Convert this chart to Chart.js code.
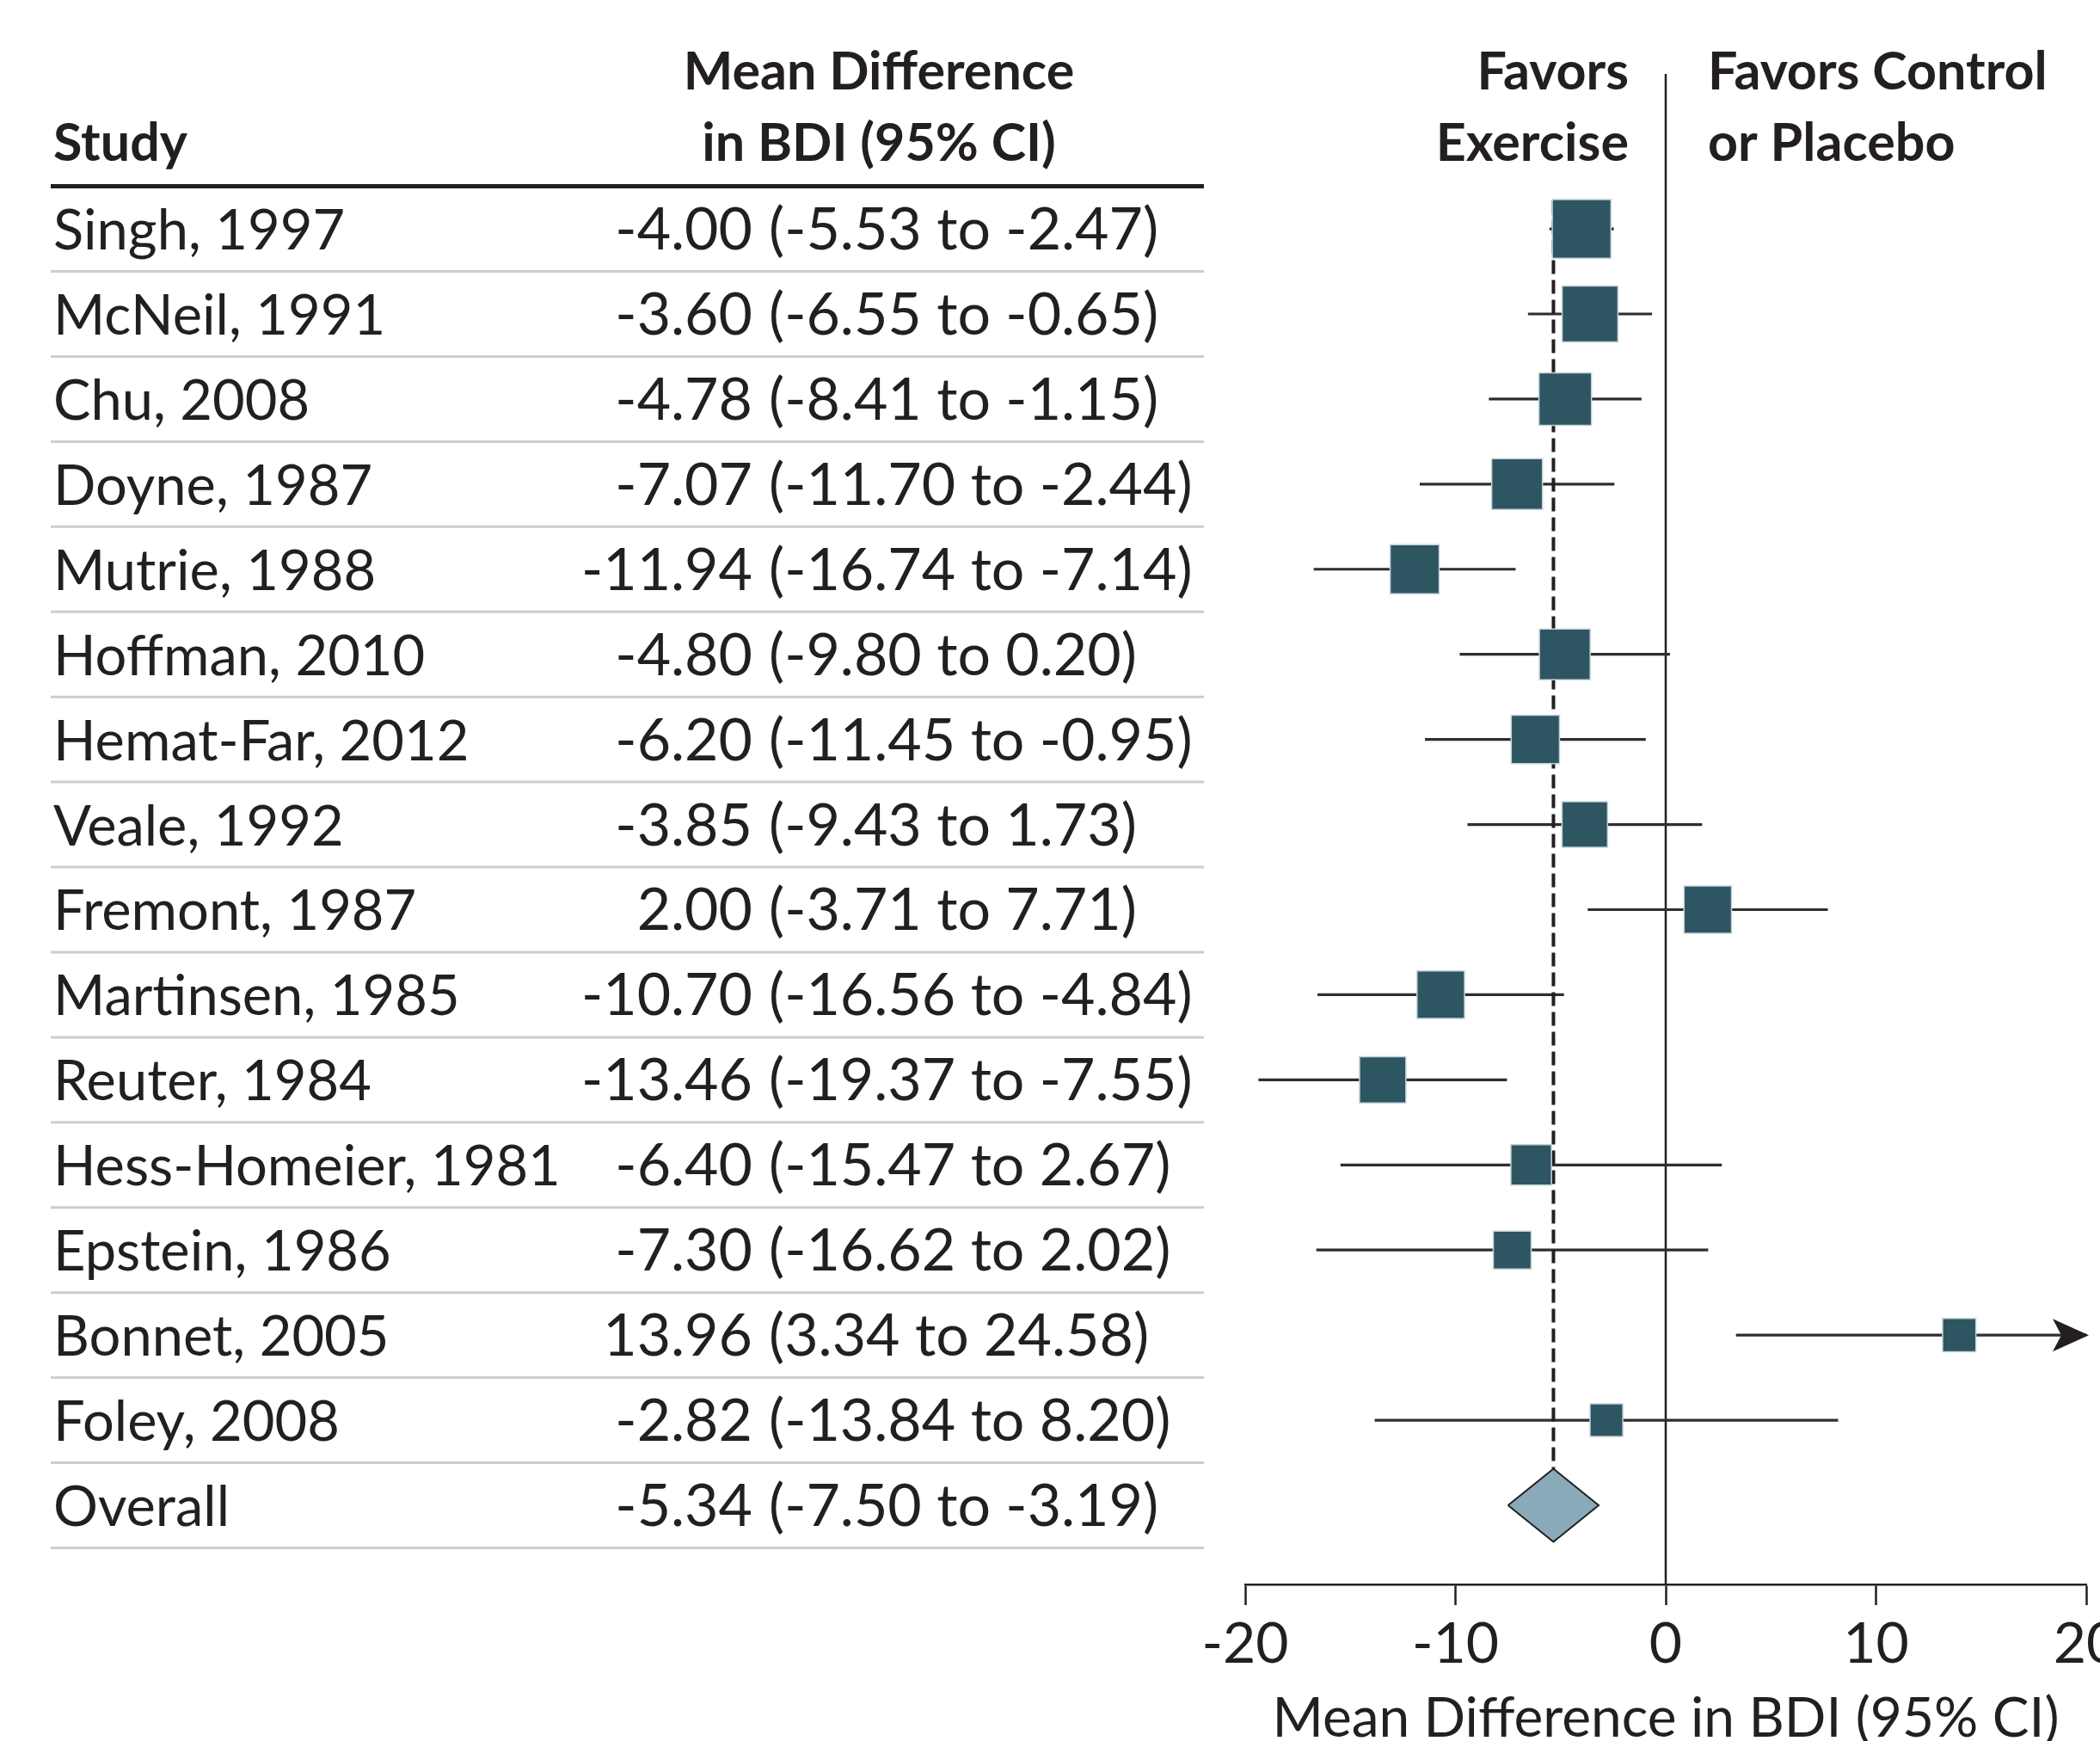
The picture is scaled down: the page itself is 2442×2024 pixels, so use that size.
<!DOCTYPE html>
<html lang="en">
<head>
    <meta charset="UTF-8">
    <title>Exercise and Depression: Mean Difference in BDI</title>
    <script src="https://cdn.jsdelivr.net/npm/chart.js@4.4.1/dist/chart.umd.min.js"></script>
    <style>
        html, body { margin: 0; padding: 0; background: #fff; overflow: hidden; }
        .wrap { width: 2442px; height: 2024px; overflow: hidden; }
        canvas { display: block; }
    </style>
</head>
<body>

    <div class="wrap">
        <canvas id="forest" width="2500" height="2024"></canvas>
    </div>

    <script>
        var studies = [
            'Singh, 1997', 'McNeil, 1991', 'Chu, 2008', 'Doyne, 1987', 'Mutrie, 1988',
            'Hoffman, 2010', 'Hemat-Far, 2012', 'Veale, 1992', 'Fremont, 1987', 'Martinsen, 1985',
            'Reuter, 1984', 'Hess-Homeier, 1981', 'Epstein, 1986', 'Bonnet, 2005', 'Foley, 2008'
        ];
        var meanDiff = [-4.00, -3.60, -4.78, -7.07, -11.94, -4.80, -6.20, -3.85, 2.00, -10.70, -13.46, -6.40, -7.30, 13.96, -2.82];
        var ciLower  = [-5.53, -6.55, -8.41, -11.70, -16.74, -9.80, -11.45, -9.43, -3.71, -16.56, -19.37, -15.47, -16.62, 3.34, -13.84];
        var ciUpper  = [-2.47, -0.65, -1.15, -2.44, -7.14, 0.20, -0.95, 1.73, 7.71, -4.84, -7.55, 2.67, 2.02, 24.58, 8.20];
        // relative study weights
        var weights  = [9.6, 8.7, 7.7, 7.2, 6.7, 7.2, 6.5, 5.8, 6.3, 6.3, 6.0, 4.6, 4.0, 3.1, 3.0];

        var overallLabel = 'Overall';
        var overallMean = -5.34;
        var overallLower = -7.50;
        var overallUpper = -3.19;

        var xTicks = [-20, -10, 0, 10, 20];
        var xTitle = 'Mean Difference in BDI (95% CI)';

        // ---- look ----
        var FONT = 'Lato';
        var INK = '#231f20';
        var BOX = '#2d5562';
        var DIAMOND = '#89aab8';
        var RULE = '#cdcec6';
        var nRows = studies.length + 1;
        var overallRow = studies.length;
        var diamondHalf = 0.43;

        var ciData = [];
        var boxData = [];
        var boxRadius = [];
        for (var i = 0; i < studies.length; i++) {
            ciData.push({x: ciLower[i], y: i}, {x: ciUpper[i], y: i}, {x: ciUpper[i], y: null});
            boxData.push({x: meanDiff[i], y: i});
            boxRadius.push(22 * Math.sqrt(weights[i]) / Math.SQRT2);
        }

        function fmt(v) { return v.toFixed(2); }

        var tablePlugin = {
            id: 'forestTable',
            afterDraw: function (chart) {
                var ctx = chart.ctx;
                var ys = chart.scales.y;
                ctx.save();
                ctx.fillStyle = INK;
                ctx.textBaseline = 'alphabetic';

                // column headers
                ctx.font = 'bold 61px ' + FONT;
                ctx.textAlign = 'left';
                ctx.fillText('Study', 62, 187);
                ctx.textAlign = 'center';
                ctx.fillText('Mean Difference', 1022, 104);
                ctx.fillText('in BDI (95% CI)', 1022, 187);
                ctx.textAlign = 'right';
                ctx.fillText('Favors', 1894, 104);
                ctx.fillText('Exercise', 1894, 187);
                ctx.textAlign = 'left';
                ctx.fillText('Favors Control', 1986, 104);
                ctx.fillText('or Placebo', 1986, 187);

                // header rule
                ctx.strokeStyle = INK;
                ctx.lineWidth = 5;
                ctx.beginPath();
                ctx.moveTo(59, ys.getPixelForValue(-0.5));
                ctx.lineTo(1400, ys.getPixelForValue(-0.5));
                ctx.stroke();

                // row rules
                ctx.strokeStyle = RULE;
                ctx.lineWidth = 3;
                for (var r = 0; r < nRows; r++) {
                    var ry = ys.getPixelForValue(r + 0.5);
                    ctx.beginPath();
                    ctx.moveTo(59, ry);
                    ctx.lineTo(1400, ry);
                    ctx.stroke();
                }

                // rows
                for (var k = 0; k < nRows; k++) {
                    var name, m, lo, hi;
                    if (k < studies.length) {
                        name = studies[k]; m = meanDiff[k]; lo = ciLower[k]; hi = ciUpper[k];
                    } else {
                        name = overallLabel; m = overallMean; lo = overallLower; hi = overallUpper;
                    }
                    var by = ys.getPixelForValue(k) + 24;
                    ctx.font = '65px ' + FONT;
                    ctx.textAlign = 'left';
                    ctx.fillText(name, 62, by);
                    ctx.font = '68px ' + FONT;
                    ctx.textAlign = 'right';
                    ctx.fillText(fmt(m), 875, by);
                    ctx.textAlign = 'left';
                    ctx.fillText('(' + fmt(lo) + ' to ' + fmt(hi) + ')', 894, by);
                }
                ctx.restore();
            }
        };

        // arrowheads for intervals running off the right edge
        var arrowPlugin = {
            id: 'ciArrows',
            afterDatasetsDraw: function (chart) {
                var ctx = chart.ctx;
                var xs = chart.scales.x;
                var ys = chart.scales.y;
                ctx.save();
                ctx.fillStyle = INK;
                for (var i = 0; i < studies.length; i++) {
                    if (ciUpper[i] <= xs.max) continue;
                    var tip = xs.getPixelForValue(xs.max) + 3;
                    var cy = ys.getPixelForValue(i);
                    ctx.beginPath();
                    ctx.moveTo(tip, cy);
                    ctx.lineTo(tip - 42, cy - 19);
                    ctx.lineTo(tip - 32, cy);
                    ctx.lineTo(tip - 42, cy + 19);
                    ctx.closePath();
                    ctx.fill();
                }
                ctx.restore();
            }
        };

        Chart.defaults.font.family = FONT;

        var chart = new Chart(document.getElementById('forest'), {
            type: 'scatter',
            data: {
                datasets: [
                    {
                        type: 'line',
                        data: [{x: 0, y: -1.82}, {x: 0, y: 15.93}],
                        borderColor: INK,
                        borderWidth: 2.5,
                        pointRadius: 0,
                        order: 6
                    },
                    {
                        type: 'line',
                        data: ciData,
                        borderColor: '#2e2e2e',
                        borderWidth: 3.2,
                        pointRadius: 0,
                        spanGaps: false,
                        order: 5
                    },
                    {
                        type: 'line',
                        data: [{x: overallMean, y: -0.33}, {x: overallMean, y: overallRow - diamondHalf}],
                        borderColor: INK,
                        borderWidth: 4,
                        borderDash: [16, 7],
                        pointRadius: 0,
                        order: 4
                    },
                    {
                        type: 'line',
                        data: [
                            {x: overallLower, y: overallRow},
                            {x: overallMean, y: overallRow - diamondHalf},
                            {x: overallUpper, y: overallRow},
                            {x: overallMean, y: overallRow + diamondHalf},
                            {x: overallLower, y: overallRow}
                        ],
                        fill: 'shape',
                        backgroundColor: DIAMOND,
                        borderColor: INK,
                        borderWidth: 2,
                        pointRadius: 0,
                        tension: 0,
                        order: 2
                    },
                    {
                        data: boxData,
                        pointStyle: 'rect',
                        pointRadius: boxRadius,
                        pointHoverRadius: boxRadius,
                        backgroundColor: BOX,
                        borderColor: '#c3d3d8',
                        borderWidth: 1.5,
                        order: 1
                    }
                ]
            },
            options: {
                responsive: false,
                animation: false,
                events: [],
                layout: { padding: { left: 1448, right: 74, top: 86, bottom: 0 } },
                plugins: {
                    legend: { display: false },
                    tooltip: { enabled: false }
                },
                scales: {
                    x: {
                        type: 'linear',
                        min: -20,
                        max: 20,
                        afterBuildTicks: function (scale) {
                            scale.ticks = xTicks.map(function (v) { return {value: v}; });
                        },
                        afterFit: function (scale) { scale.height = 182; },
                        ticks: {
                            font: { family: FONT, size: 66 },
                            color: INK,
                            padding: 6,
                            maxRotation: 0,
                            autoSkip: false
                        },
                        grid: {
                            drawOnChartArea: false,
                            tickLength: 24,
                            tickWidth: 2.5,
                            tickColor: INK
                        },
                        border: { display: true, color: INK, width: 2.5 },
                        title: {
                            display: true,
                            text: xTitle,
                            color: INK,
                            font: { family: FONT, size: 64, lineHeight: 0.8 },
                            padding: { top: 0, bottom: 0 }
                        }
                    },
                    y: {
                        type: 'linear',
                        reverse: true,
                        min: -1.82,
                        max: 15.93,
                        display: false
                    }
                }
            },
            plugins: [tablePlugin, arrowPlugin]
        });
    </script>

</body>
</html>
